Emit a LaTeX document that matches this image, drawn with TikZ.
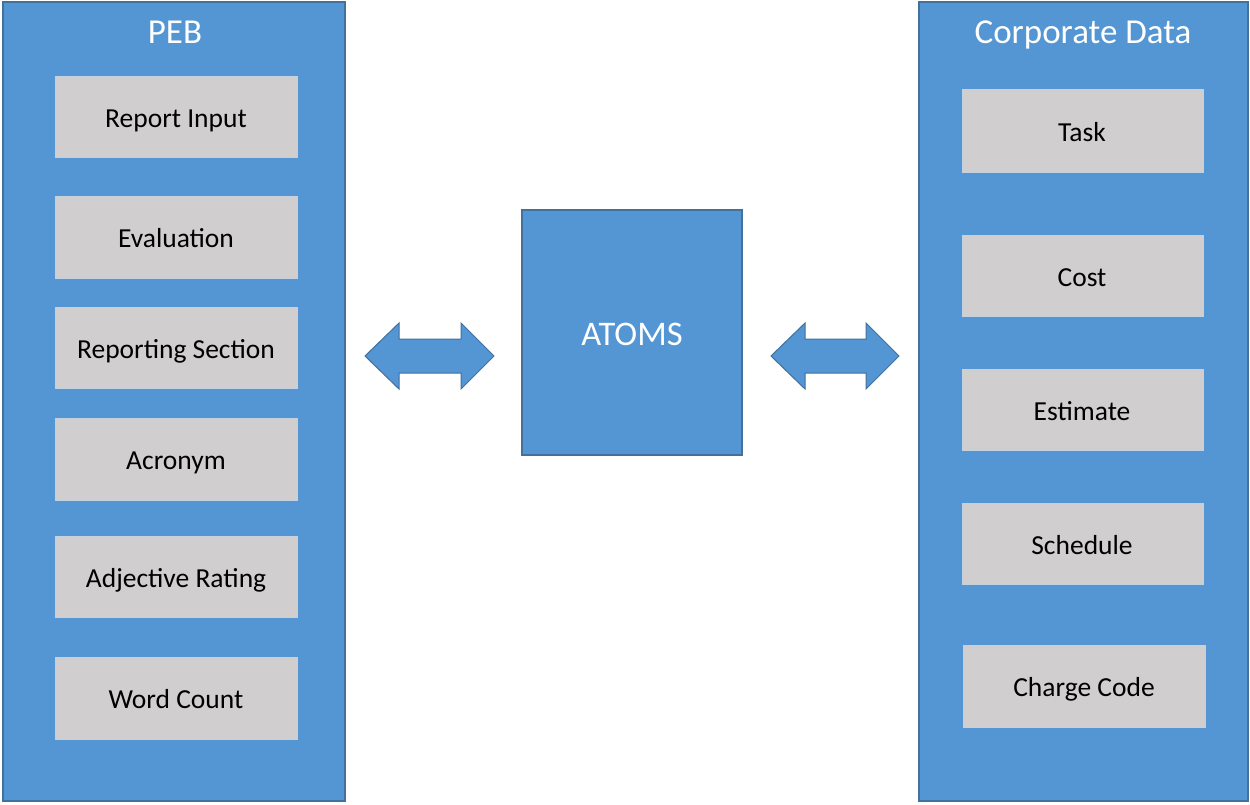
\documentclass[tikz,border=0pt]{standalone}
\usepackage{fontspec}
\setmainfont{Carlito}
\definecolor{panelblue}{HTML}{5396D3}
\definecolor{paneledge}{HTML}{41719C}
\definecolor{boxgray}{HTML}{D0CECE}
\definecolor{boxedge}{HTML}{C5D0DE}
\tikzset{
  panel/.style={fill=panelblue, draw=paneledge, line width=1.5pt},
  itembox/.style={fill=boxgray, draw=boxedge, line width=1pt},
  itemtext/.style={font=\fontsize{27.5}{30}\selectfont, text=black, anchor=base, inner sep=0pt},
  titletext/.style={font=\fontsize{35}{40}\selectfont, text=white, anchor=base, inner sep=0pt},
  blockarrow/.style={fill=panelblue, draw=paneledge, line width=1pt, line join=miter}
}
\begin{document}
\begin{tikzpicture}[x=1pt,y=-1pt]
\useasboundingbox (0,0) rectangle (1250,804);
% panels
\draw[panel] (3,2) rectangle (345,801);
\node[titletext] (pebt) at (175,43) {PEB};
\draw[panel] (919,2) rectangle (1248,801);
\node[titletext] (corpt) at (1083,43) {Corporate Data};
% center
\draw[panel] (522,210) rectangle (742,455);
\node[titletext, font=\fontsize{34.5}{40}\selectfont] (atoms) at (632,345) {ATOMS};
% left items
\foreach \n/\ya/\yb/\t in {ri/76/157/Report Input, ev/196/278/Evaluation, rs/307/388/Reporting Section, ac/418/500/Acronym, ar/536/617/Adjective Rating, wc/657/739/Word Count}{
  \draw[itembox] (55,\ya) rectangle (297,\yb);
  \node[itemtext] (\n) at (176,{(\ya+\yb)/2+10.5}) {\t};
}
% right items
\foreach \n/\ya/\yb/\t in {ta/89/172/Task, co/235/316/Cost, es/369/450/Estimate, sc/503/584/Schedule}{
  \draw[itembox] (962,\ya) rectangle (1203,\yb);
  \node[itemtext] (\n) at (1082,{(\ya+\yb)/2+10.5}) {\t};
}
\draw[itembox] (963,645) rectangle (1205,727);
\node[itemtext] (cc) at (1084,696.5) {Charge Code};
% double arrows
\draw[blockarrow] (365,356) -- (399,323) -- (399,339) -- (461,339) -- (461,323) -- (494,356)
  -- (461,389) -- (461,373) -- (399,373) -- (399,389) -- cycle;
\draw[blockarrow] (771,356) -- (805,323) -- (805,339) -- (866,339) -- (866,323) -- (899,356)
  -- (866,389) -- (866,373) -- (805,373) -- (805,389) -- cycle;
\end{tikzpicture}
\end{document}
